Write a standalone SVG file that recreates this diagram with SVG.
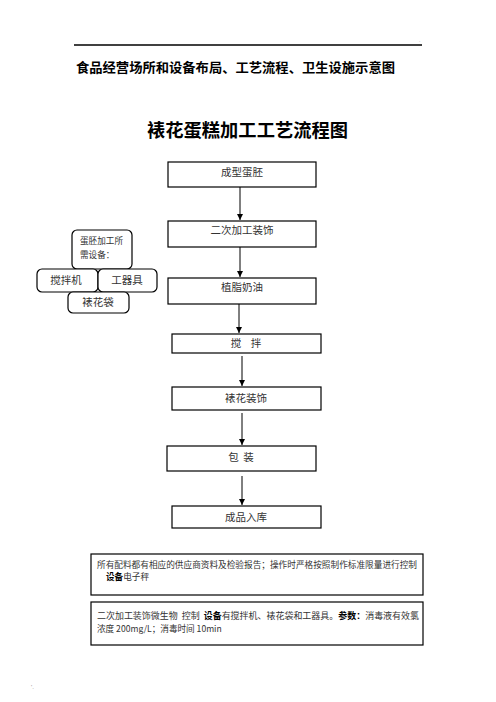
<svg xmlns="http://www.w3.org/2000/svg" width="496" height="702" viewBox="0 0 496 702">
<defs>
<style>
.h{font-family:"Noto Sans CJK SC","Liberation Sans",sans-serif;font-weight:bold;fill:#000}
.b{fill:#fff;stroke:#000;stroke-width:1.2}
.t{font-family:"Noto Sans CJK SC","Liberation Serif",serif;font-size:10.5px;fill:#333;text-anchor:middle}
.s{font-family:"Noto Sans CJK SC","Liberation Serif",serif;font-size:8.6px;fill:#333}
.bd{font-weight:bold;fill:#000}
.c{stroke:#000;stroke-width:1;fill:none;marker-end:url(#ah)}
</style>
<marker id="ah" viewBox="0 0 10 10" refX="10" refY="5" markerWidth="6" markerHeight="6" markerUnits="userSpaceOnUse" orient="auto">
<path d="M0,0 L10,5 L0,10 z" fill="#000"/>
</marker>
</defs>
<rect width="496" height="702" fill="#fff"/>
<line x1="74" y1="45" x2="422" y2="45" stroke="#000" stroke-width="1.3"/>
<text x="419" y="42" font-family="Liberation Sans,sans-serif" font-size="5" fill="#999">.</text>
<text class="h" x="76" y="72" font-size="13" textLength="319" lengthAdjust="spacingAndGlyphs">食品经营场所和设备布局、工艺流程、卫生设施示意图</text>
<text class="h" x="147" y="137" font-size="18.5" textLength="201" lengthAdjust="spacingAndGlyphs">裱花蛋糕加工工艺流程图</text>

<g id="connectors">
<line class="c" x1="240" y1="187" x2="240" y2="220"/>
<line class="c" x1="240" y1="247" x2="240" y2="277"/>
<line class="c" x1="239" y1="304" x2="239" y2="333"/>
<line class="c" x1="242" y1="356" x2="242" y2="386"/>
<line class="c" x1="242" y1="413" x2="242" y2="445"/>
<line class="c" x1="242" y1="476" x2="242" y2="505"/>
</g>

<g id="n1"><rect class="b" x="168" y="162" width="148" height="25"/><text class="t" x="242" y="176">成型蛋胚</text></g>
<g id="n2"><rect class="b" x="168" y="221" width="148" height="26"/><text class="t" x="242" y="234" font-size="9.5">二次加工装饰</text></g>
<g id="n3"><rect class="b" x="168" y="278" width="148" height="26"/><text class="t" x="242" y="291">植脂奶油</text></g>
<g id="n4"><rect class="b" x="172" y="334" width="149" height="19"/><text class="t" x="246" y="347" xml:space="preserve">搅    拌</text></g>
<g id="n5"><rect class="b" x="172" y="387" width="149" height="23"/><text class="t" x="246" y="402">裱花装饰</text></g>
<g id="n6"><rect class="b" x="167" y="446" width="149" height="25"/><text class="t" x="241" y="461" xml:space="preserve">包  装</text></g>
<g id="n7"><rect class="b" x="172" y="506" width="149" height="22"/><text class="t" x="246" y="521">成品入库</text></g>

<g id="equip">
<rect class="b" x="72" y="230" width="60" height="39" rx="5"/>
<text class="s" x="80" y="244" font-size="9.5">蛋胚加工所</text>
<text class="s" x="80" y="258" font-size="9.5">需设备：</text>
</g>
<g id="e1"><rect class="b" x="37" y="269" width="61" height="23" rx="5"/><text class="t" x="66" y="284" font-size="11">搅拌机</text></g>
<g id="e2"><rect class="b" x="98" y="269" width="59" height="23" rx="5"/><text class="t" x="127" y="284" font-size="11">工器具</text></g>
<g id="e3"><rect class="b" x="68" y="292" width="61" height="21" rx="5"/><text class="t" x="98" y="306" font-size="11">裱花袋</text></g>

<g id="note1">
<rect class="b" x="91" y="554" width="332" height="41"/>
<text class="s" x="97" y="568" textLength="320" lengthAdjust="spacingAndGlyphs">所有配料都有相应的供应商资料及检验报告；操作时严格按照制作标准限量进行控制</text>
<text class="s" x="106" y="580"><tspan class="bd">设备</tspan>电子秤</text>
</g>
<g id="note2">
<rect class="b" x="91" y="602" width="332" height="43"/>
<text class="s" x="97" y="619" textLength="322" lengthAdjust="spacingAndGlyphs" xml:space="preserve">二次加工装饰微生物  控制  <tspan class="bd">设备</tspan>有搅拌机、裱花袋和工器具。<tspan class="bd">参数：</tspan>消毒液有效氯</text>
<text class="s" x="97" y="632">浓度 200mg/L；消毒时间 10min</text>
</g>
<text x="31" y="689" font-family="Liberation Sans,sans-serif" font-size="6" fill="#888">'.</text>
</svg>
